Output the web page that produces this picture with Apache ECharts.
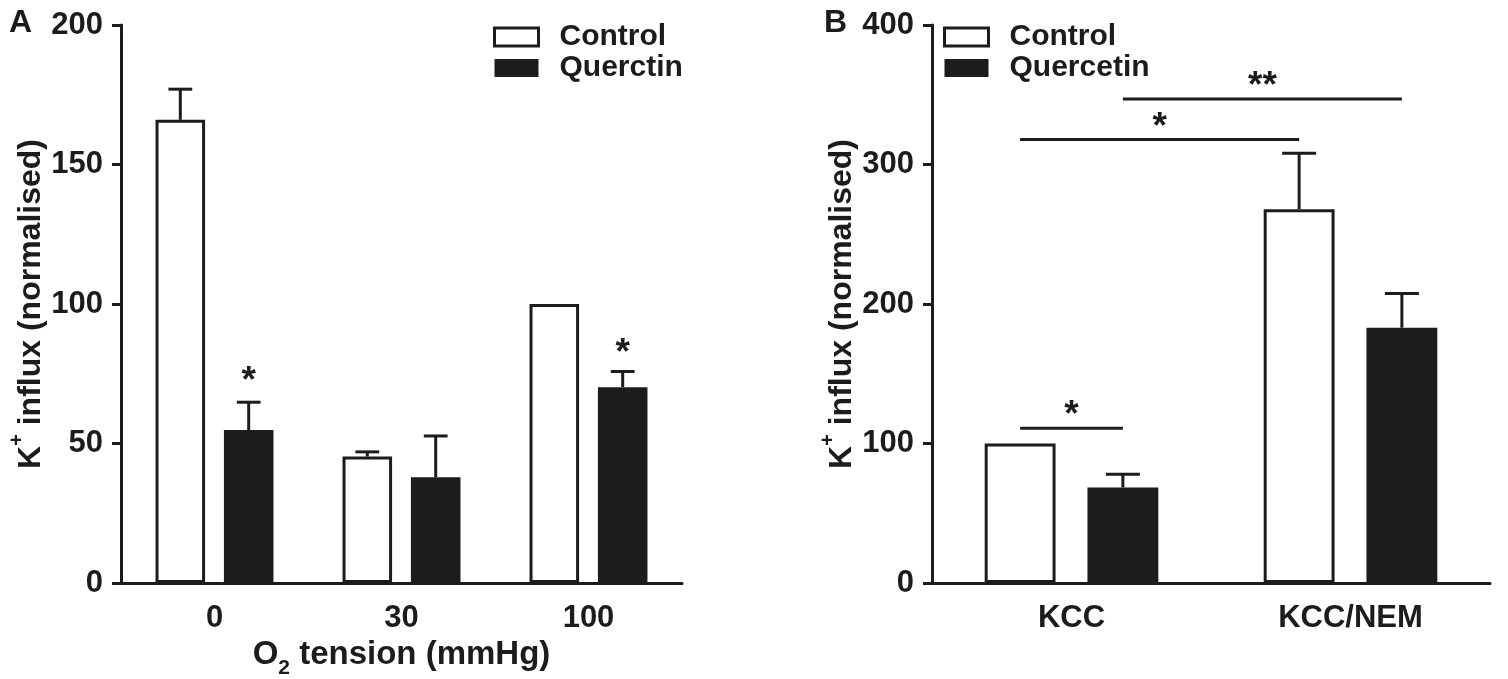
<!DOCTYPE html>
<html>
<head>
<meta charset="utf-8">
<script src="https://cdn.jsdelivr.net/npm/echarts@6/dist/echarts.min.js"></script>
<style>
  html, body { margin: 0; padding: 0; background: #fff; }
  #chart { width: 1508px; height: 679px; }
</style>
</head>
<body>
<div id="chart"></div>
<script>
// Panel A: K+ influx vs O2 tension
var catsA = ['0', '30', '100'];
var controlA = [166, 45.3, 100];
var controlErrA = [11, 1.7, 0];
var quercA = [54.8, 37.9, 70.2];
var quercErrA = [10, 14.8, 5.6];
// asterisks above quercetin bars: category index, value at glyph centre
var starCatsA = [0, 2];
var starYA = [75, 85];

// Panel B: KCC vs KCC/NEM
var catsB = ['KCC', 'KCC/NEM'];
var controlB = [100, 268];
var controlErrB = [0, 40];
var quercB = [68.5, 183];
var quercErrB = [9.5, 24.5];
// brackets: [fromCat, fromSide, toCat, toSide, value, label]  side -1 = control, 1 = quercetin
var bracketsB = [
  [0, -1, 0, 1, 111, '*'],
  [0, -1, 1, -1, 318, '*'],
  [0, 1, 1, 1, 347, '**']
];

var FONT = '"Liberation Sans", Arial, Helvetica, sans-serif';
var INK = '#1c1c1c';

// bar geometry (fraction of band, gap fraction of bar width)
var BAR_A = {w: 0.265, g: 0.38};
var BAR_B = {w: 0.254, g: 0.45};

function sideOffset(bar, band, side) {
  return side * band * bar.w * (1 + bar.g) / 2;
}

function errorItem(bar) {
  return function (params, api) {
    var err = api.value(3);
    if (!err) return null;
    var cat = api.value(0), side = api.value(1), top = api.value(2);
    var band = api.size([1, 0])[0];
    var p0 = api.coord([cat, top]);
    var p1 = api.coord([cat, top + err]);
    var x = p0[0] + sideOffset(bar, band, side);
    var cap = band * bar.w * 0.24;
    return {
      type: 'group',
      children: [
        {type: 'line', shape: {x1: x, y1: p0[1], x2: x, y2: p1[1]}, style: {stroke: INK, lineWidth: 3}},
        {type: 'line', shape: {x1: x - cap, y1: p1[1], x2: x + cap, y2: p1[1]}, style: {stroke: INK, lineWidth: 3}}
      ]
    };
  };
}

function starItem(bar) {
  return function (params, api) {
    var cat = api.value(0), side = api.value(1), y = api.value(2);
    var band = api.size([1, 0])[0];
    var p = api.coord([cat, y]);
    return {
      type: 'text',
      style: {
        text: '*', x: p[0] + sideOffset(bar, band, side), y: p[1] + 8,
        align: 'center', verticalAlign: 'middle',
        font: 'bold 37px ' + FONT, fill: INK
      }
    };
  };
}

function bracketItem(bar) {
  return function (params, api) {
    var band = api.size([1, 0])[0];
    var y = api.value(4);
    var a = api.coord([api.value(0), y]);
    var b = api.coord([api.value(2), y]);
    var x1 = a[0] + sideOffset(bar, band, api.value(1));
    var x2 = b[0] + sideOffset(bar, band, api.value(3));
    return {
      type: 'group',
      children: [
        {type: 'line', shape: {x1: x1, y1: a[1], x2: x2, y2: a[1]}, style: {stroke: INK, lineWidth: 3}},
        {type: 'text', style: {
          text: bracketsB[params.dataIndex][5], x: (x1 + x2) / 2, y: a[1] - 12,
          align: 'center', verticalAlign: 'middle',
          font: 'bold 37px ' + FONT, fill: INK
        }}
      ]
    };
  };
}

function errData(vals, errs, side) {
  return vals.map(function (v, i) { return [i, side, v, errs[i]]; });
}

var labelStyle = {fontSize: 31, fontWeight: 'bold', fontFamily: FONT, color: INK};
var lineStyle = {color: INK, width: 3};

function yName() {
  return {
    name: '{k|K}{sup|+}{k| influx (normalised)}',
    nameLocation: 'middle',
    nameRotate: 90,
    nameTextStyle: {
      rich: {
        k: {fontSize: 32, fontWeight: 'bold', fontFamily: FONT, color: INK, lineHeight: 40, verticalAlign: 'bottom'},
        sup: {fontSize: 20, fontWeight: 'bold', fontFamily: FONT, color: INK, lineHeight: 20, verticalAlign: 'top'}
      }
    }
  };
}

function legendFor(left, names) {
  return {
    orient: 'vertical', left: left, top: 17,
    icon: 'rect', itemWidth: 44, itemHeight: 18, itemGap: 1,
    selectedMode: false,
    textStyle: {fontSize: 30, fontWeight: 'bold', fontFamily: FONT, color: INK, lineHeight: 29, padding: [0, 0, 0, 16]},
    data: [
      {name: names[0], itemStyle: {color: '#fff', borderColor: INK, borderWidth: 3}},
      {name: names[1], itemStyle: {color: INK, borderWidth: 0}}
    ]
  };
}

var chart = echarts.init(document.getElementById('chart'), null, {renderer: 'canvas'});

var yA = yName();
var yB = yName();

chart.setOption({
  animation: false,
  backgroundColor: '#fff',
  title: [
    {text: 'A', left: 4, top: 2, textStyle: {fontSize: 32, fontWeight: 'bold', fontFamily: FONT, color: INK}},
    {text: 'B', left: 819, top: 2, textStyle: {fontSize: 32, fontWeight: 'bold', fontFamily: FONT, color: INK}}
  ],
  legend: [legendFor(488, ['Control', 'Querctin']), legendFor(938, ['Control', 'Quercetin'])],
  grid: [
    {left: 121, top: 25, width: 561, height: 558, outerBoundsMode: 'none'},
    {left: 932, top: 25, width: 558, height: 558, outerBoundsMode: 'none'}
  ],
  xAxis: [
    {
      type: 'category', gridIndex: 0, data: catsA,
      axisLine: {lineStyle: lineStyle},
      axisTick: {alignWithLabel: true, length: 10, lineStyle: lineStyle},
      axisLabel: Object.assign({margin: 20}, labelStyle),
      name: '{n|O}{sub|2}{n| tension (mmHg)}',
      nameLocation: 'middle', nameGap: 54,
      nameTextStyle: {
        rich: {
          n: {fontSize: 33, fontWeight: 'bold', fontFamily: FONT, color: INK, lineHeight: 40, verticalAlign: 'top'},
          sub: {fontSize: 21, fontWeight: 'bold', fontFamily: FONT, color: INK, lineHeight: 21, verticalAlign: 'bottom'}
        }
      }
    },
    {
      type: 'category', gridIndex: 1, data: catsB,
      axisLine: {lineStyle: lineStyle},
      axisTick: {alignWithLabel: true, length: 10, lineStyle: lineStyle},
      axisLabel: Object.assign({margin: 20}, labelStyle)
    }
  ],
  yAxis: [
    Object.assign({
      type: 'value', gridIndex: 0, min: 0, max: 200, interval: 50,
      splitLine: {show: false},
      axisLine: {show: true, lineStyle: lineStyle},
      axisTick: {show: true, length: 9, lineStyle: lineStyle},
      axisLabel: Object.assign({margin: 18}, labelStyle),
      nameGap: 45
    }, yA),
    Object.assign({
      type: 'value', gridIndex: 1, min: 0, max: 400, interval: 100,
      splitLine: {show: false},
      axisLine: {show: true, lineStyle: lineStyle},
      axisTick: {show: true, length: 9, lineStyle: lineStyle},
      axisLabel: Object.assign({margin: 18}, labelStyle),
      nameGap: 45
    }, yB)
  ],
  series: [
    {
      name: 'Control', type: 'bar', xAxisIndex: 0, yAxisIndex: 0, data: controlA,
      barWidth: (BAR_A.w * 100) + '%', barGap: (BAR_A.g * 100) + '%',
      itemStyle: {color: '#fff', borderColor: INK, borderWidth: 3}
    },
    {
      name: 'Querctin', type: 'bar', xAxisIndex: 0, yAxisIndex: 0, data: quercA,
      barWidth: (BAR_A.w * 100) + '%', barGap: (BAR_A.g * 100) + '%',
      itemStyle: {color: INK}
    },
    {
      name: 'Control', type: 'bar', xAxisIndex: 1, yAxisIndex: 1, data: controlB,
      barWidth: (BAR_B.w * 100) + '%', barGap: (BAR_B.g * 100) + '%',
      itemStyle: {color: '#fff', borderColor: INK, borderWidth: 3}
    },
    {
      name: 'Quercetin', type: 'bar', xAxisIndex: 1, yAxisIndex: 1, data: quercB,
      barWidth: (BAR_B.w * 100) + '%', barGap: (BAR_B.g * 100) + '%',
      itemStyle: {color: INK}
    },
    {
      type: 'custom', xAxisIndex: 0, yAxisIndex: 0, z: 5,
      renderItem: errorItem(BAR_A), encode: {x: 0, y: 2},
      data: errData(controlA, controlErrA, -1).concat(errData(quercA, quercErrA, 1))
    },
    {
      type: 'custom', xAxisIndex: 1, yAxisIndex: 1, z: 5,
      renderItem: errorItem(BAR_B), encode: {x: 0, y: 2},
      data: errData(controlB, controlErrB, -1).concat(errData(quercB, quercErrB, 1))
    },
    {
      type: 'custom', xAxisIndex: 0, yAxisIndex: 0, z: 5,
      renderItem: starItem(BAR_A), encode: {x: 0, y: 2},
      data: starCatsA.map(function (c, i) { return [c, 1, starYA[i]]; })
    },
    {
      type: 'custom', xAxisIndex: 1, yAxisIndex: 1, z: 5,
      renderItem: bracketItem(BAR_B), encode: {x: 0, y: 4},
      data: bracketsB.map(function (b) { return b.slice(0, 5); })
    }
  ]
});
</script>
</body>
</html>
